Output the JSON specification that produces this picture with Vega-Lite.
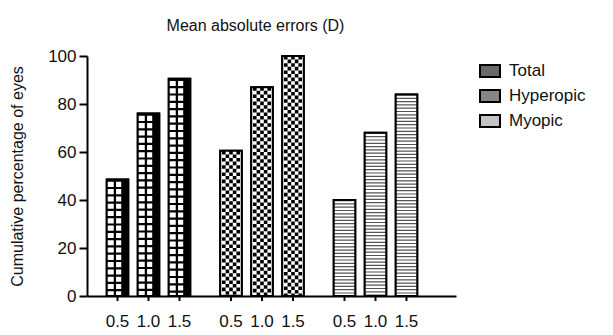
{
  "$schema": "https://vega.github.io/schema/vega-lite/v6.json",
  "width": 369,
  "height": 240,
  "autosize": {"type": "none"},
  "padding": {"left": 87, "top": 56, "right": 157, "bottom": 39},
  "background": "white",
  "config": {
    "view": {"stroke": null},
    "font": "Liberation Sans",
    "axis": {"labelFont": "Liberation Sans", "titleFont": "Liberation Sans", "labelColor": "#111", "titleColor": "#111"},
    "legend": {"labelFont": "Liberation Sans"}
  },
  "title": {
    "text": "Mean absolute errors (D)",
    "fontSize": 16,
    "fontWeight": "normal",
    "color": "#111",
    "font": "Liberation Sans",
    "offset": 13,
    "dx": -16
  },
  "data": {
    "values": [
      {"group": "Total", "err": "0.5", "value": 48.5},
      {"group": "Total", "err": "1.0", "value": 76},
      {"group": "Total", "err": "1.5", "value": 90.5},
      {"group": "Hyperopic", "err": "0.5", "value": 60.5},
      {"group": "Hyperopic", "err": "1.0", "value": 87},
      {"group": "Hyperopic", "err": "1.5", "value": 100},
      {"group": "Myopic", "err": "0.5", "value": 40},
      {"group": "Myopic", "err": "1.0", "value": 68},
      {"group": "Myopic", "err": "1.5", "value": 84}
    ]
  },
  "resolve": {"scale": {"x": "independent", "xOffset": "independent"}},
  "encoding": {
    "x": {
      "field": "group",
      "type": "nominal",
      "sort": ["Total", "Hyperopic", "Myopic"],
      "scale": {"type": "band", "domain": ["Total", "Hyperopic", "Myopic"], "paddingInner": 0.1806, "paddingOuter": 0.2159, "align": 0.306},
      "axis": null
    },
    "xOffset": {
      "field": "err",
      "type": "nominal",
      "sort": ["0.5", "1.0", "1.5"],
      "scale": {"type": "band", "paddingInner": 0.306, "paddingOuter": 0.153}
    },
    "y": {
      "field": "value",
      "type": "quantitative",
      "scale": {"domain": [0, 100], "nice": false, "zero": true},
      "axis": {
        "title": "Cumulative percentage of eyes",
        "values": [0, 20, 40, 60, 80, 100],
        "tickSize": 8,
        "tickWidth": 2,
        "tickColor": "black",
        "domainWidth": 2,
        "domainColor": "black",
        "labelFontSize": 17,
        "labelPadding": 3,
        "titleFontSize": 16,
        "titleFontWeight": "normal",
        "titlePadding": 22,
        "grid": false
      }
    }
  },
  "layer": [
    {
      "mark": {"type": "bar", "stroke": "black", "strokeWidth": 2},
      "encoding": {
        "x": {
          "field": "group",
          "type": "nominal",
          "sort": ["Total", "Hyperopic", "Myopic"],
          "scale": {"type": "band", "domain": ["Total", "Hyperopic", "Myopic"], "paddingInner": 0.1806, "paddingOuter": 0.2159, "align": 0.306},
          "axis": {"labels": false, "ticks": false, "title": null, "domainWidth": 2, "domainColor": "black", "grid": false}
        },
        "fill": {
          "field": "group",
          "type": "nominal",
          "scale": {"domain": ["Total", "Hyperopic", "Myopic"], "range": ["#6a6a6a", "#858585", "#c4c4c4"]},
          "legend": {
            "title": null,
            "orient": "none",
            "legendX": 392,
            "legendY": 4,
            "symbolType": "M-1,-0.6L1,-0.6L1,0.6L-1,0.6Z",
            "symbolSize": 400,
            "symbolStrokeColor": "black",
            "symbolStrokeWidth": 2,
            "symbolOpacity": 1,
            "labelFontSize": 17,
            "labelColor": "#111",
            "labelOffset": 8,
            "rowPadding": 4
          }
        }
      }
    },
    {"mark": {"type": "bar", "fill": "white", "stroke": null}},
    {
      "transform": [{"filter": "datum.group === 'Total'"}],
      "mark": {"type": "rule", "color": "black", "strokeWidth": 21.5, "strokeDash": [2.2, 5.1]},
      "encoding": {"y2": {"datum": 0}}
    },
    {
      "transform": [{"filter": "datum.group === 'Total'"}],
      "mark": {"type": "rule", "color": "black", "strokeWidth": 2.3},
      "encoding": {
        "x": {"field": "group", "type": "nominal", "sort": ["Total", "Hyperopic", "Myopic"], "axis": null,
              "scale": {"type": "band", "domain": ["Total", "Hyperopic", "Myopic"], "paddingInner": 0.1806, "paddingOuter": 0.2159, "align": 0.253}},
        "y2": {"datum": 0}
      }
    },
    {
      "transform": [{"filter": "datum.group === 'Total'"}],
      "mark": {"type": "rule", "color": "black", "strokeWidth": 7},
      "encoding": {
        "x": {"field": "group", "type": "nominal", "sort": ["Total", "Hyperopic", "Myopic"], "axis": null,
              "scale": {"type": "band", "domain": ["Total", "Hyperopic", "Myopic"], "paddingInner": 0.1806, "paddingOuter": 0.2159, "align": 0.453}},
        "y2": {"datum": 0}
      }
    },
    {
      "transform": [{"filter": "datum.group === 'Hyperopic'"}],
      "mark": {"type": "rule", "color": "black", "strokeWidth": 3.6, "strokeDash": [3.6, 3.6], "strokeDashOffset": 0},
      "encoding": {
        "x": {"field": "group", "type": "nominal", "sort": ["Total", "Hyperopic", "Myopic"], "axis": null,
              "scale": {"type": "band", "domain": ["Total", "Hyperopic", "Myopic"], "paddingInner": 0.1806, "paddingOuter": 0.2159, "align": 0.159}},
        "y2": {"datum": 0}
      }
    },
    {
      "transform": [{"filter": "datum.group === 'Hyperopic'"}],
      "mark": {"type": "rule", "color": "black", "strokeWidth": 3.6, "strokeDash": [3.6, 3.6], "strokeDashOffset": 3.6},
      "encoding": {
        "x": {"field": "group", "type": "nominal", "sort": ["Total", "Hyperopic", "Myopic"], "axis": null,
              "scale": {"type": "band", "domain": ["Total", "Hyperopic", "Myopic"], "paddingInner": 0.1806, "paddingOuter": 0.2159, "align": 0.2325}},
        "y2": {"datum": 0}
      }
    },
    {
      "transform": [{"filter": "datum.group === 'Hyperopic'"}],
      "mark": {"type": "rule", "color": "black", "strokeWidth": 3.6, "strokeDash": [3.6, 3.6], "strokeDashOffset": 0},
      "encoding": {"y2": {"datum": 0}}
    },
    {
      "transform": [{"filter": "datum.group === 'Hyperopic'"}],
      "mark": {"type": "rule", "color": "black", "strokeWidth": 3.6, "strokeDash": [3.6, 3.6], "strokeDashOffset": 3.6},
      "encoding": {
        "x": {"field": "group", "type": "nominal", "sort": ["Total", "Hyperopic", "Myopic"], "axis": null,
              "scale": {"type": "band", "domain": ["Total", "Hyperopic", "Myopic"], "paddingInner": 0.1806, "paddingOuter": 0.2159, "align": 0.3795}},
        "y2": {"datum": 0}
      }
    },
    {
      "transform": [{"filter": "datum.group === 'Hyperopic'"}],
      "mark": {"type": "rule", "color": "black", "strokeWidth": 3.6, "strokeDash": [3.6, 3.6], "strokeDashOffset": 0},
      "encoding": {
        "x": {"field": "group", "type": "nominal", "sort": ["Total", "Hyperopic", "Myopic"], "axis": null,
              "scale": {"type": "band", "domain": ["Total", "Hyperopic", "Myopic"], "paddingInner": 0.1806, "paddingOuter": 0.2159, "align": 0.453}},
        "y2": {"datum": 0}
      }
    },
    {
      "transform": [{"filter": "datum.group === 'Myopic'"}],
      "mark": {"type": "rule", "color": "#555555", "strokeWidth": 21.5, "strokeDash": [1.2, 2.1]},
      "encoding": {"y2": {"datum": 0}}
    },
    {"mark": {"type": "bar", "fillOpacity": 0, "stroke": "black", "strokeWidth": 2}},
    {
      "mark": {"type": "rule", "color": "black", "strokeWidth": 2},
      "encoding": {"y": {"datum": 0}, "y2": {"datum": -2.1}}
    },
    {
      "mark": {"type": "text", "fontSize": 17, "dy": 26, "baseline": "middle", "align": "center", "color": "#111", "font": "Liberation Sans"},
      "encoding": {"y": {"datum": 0}, "text": {"field": "err", "type": "nominal"}}
    }
  ]
}
